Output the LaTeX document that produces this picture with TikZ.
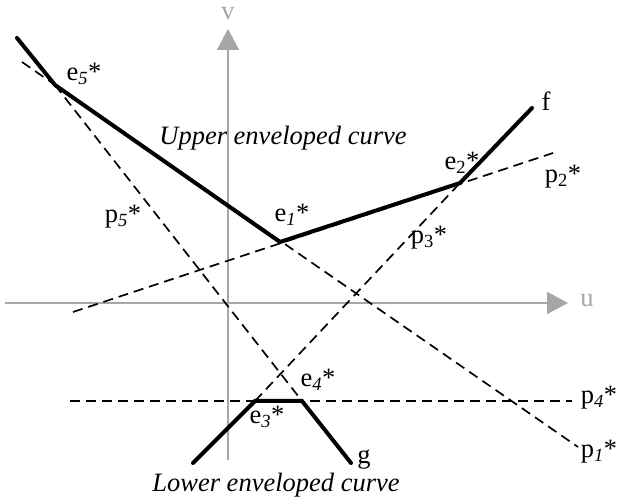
\documentclass[tikz,border=0pt]{standalone}
\usepackage{fontspec}
\setmainfont{Liberation Serif}
\usetikzlibrary{arrows.meta}
\definecolor{axisgray}{RGB}{166,166,166}
\tikzset{
  axis/.style={draw=axisgray, line width=2pt, -{Triangle[length=21pt,width=22pt]}},
  env/.style={line width=4pt, line cap=round},
  pline/.style={line width=1.7pt, dash pattern=on 10pt off 6pt},
  lbl/.style={inner sep=0pt, font=\fontsize{26.5}{30}\selectfont},
  axlbl/.style={lbl, text=axisgray}
}
\newcommand{\sub}[1]{\textsubscript{#1}}
\newcommand{\isub}[1]{\textsubscript{\textit{#1}}}
\begin{document}
\begin{tikzpicture}[x=1pt,y=-1pt]
\useasboundingbox (0,0) rectangle (619,502);
% coordinates
\coordinate (O1) at (5,303);
\coordinate (U) at (568,303);
\coordinate (O2) at (228,460);
\coordinate (V) at (228,29);
\coordinate (e5) at (55,85);
\coordinate (e1) at (280,242);
\coordinate (e2) at (460,183);
\coordinate (e3) at (255,401);
\coordinate (e4) at (302,401);
\coordinate (fend) at (532,108);
\coordinate (gend) at (351,463);
\coordinate (ustart) at (17,38);
\coordinate (lstart) at (193,463);
\coordinate (p1a) at (22,62);
\coordinate (p1b) at (578,447);
\coordinate (p2a) at (73,312);
\coordinate (p2b) at (553,153);
\coordinate (p4a) at (70,401);
\coordinate (p4b) at (572,401);
% axes
\draw[axis] (O1) -- (U);
\draw[axis] (O2) -- (V);
% dashed lines
\draw[pline] (p1a) -- (p1b);
\draw[pline] (p2a) -- (p2b);
\draw[pline] (e3) -- (e2);
\draw[pline] (p4a) -- (p4b);
\draw[pline] (e5) -- (e4);
% envelopes
\draw[env, line join=miter] (ustart) -- (e5) -- (e1) -- (e2) -- (fend);
\draw[env, line join=miter] (lstart) -- (e3) -- (e4) -- (gend);
% labels
\node[axlbl] (lv) at (228,14) {v};
\node[axlbl] (lu) at (587,301) {u};
\node[lbl] (le5) at (84,74) {e\isub{5}*};
\node[lbl] (lup) at (283,138) {\textit{Upper enveloped curve}};
\node[lbl] (le1) at (292,215) {e\isub{1}*};
\node[lbl] (le2) at (462,163) {e\sub{2}*};
\node[lbl] (lf) at (546,101) {f};
\node[lbl] (lp2) at (563,177) {p\sub{2}*};
\node[lbl] (lp5) at (123,217) {p\isub{5}*};
\node[lbl] (lp3) at (429,238) {p\sub{3}*};
\node[lbl] (le4) at (318,380) {e\isub{4}*};
\node[lbl] (le3) at (267,417) {e\isub{3}*};
\node[lbl] (lg) at (364,460) {g};
\node[lbl] (lp4) at (599,398) {p\isub{4}*};
\node[lbl] (lp1) at (599,452) {p\isub{1}*};
\node[lbl] (llow) at (276,485) {\textit{Lower enveloped curve}};
\end{tikzpicture}
\end{document}
